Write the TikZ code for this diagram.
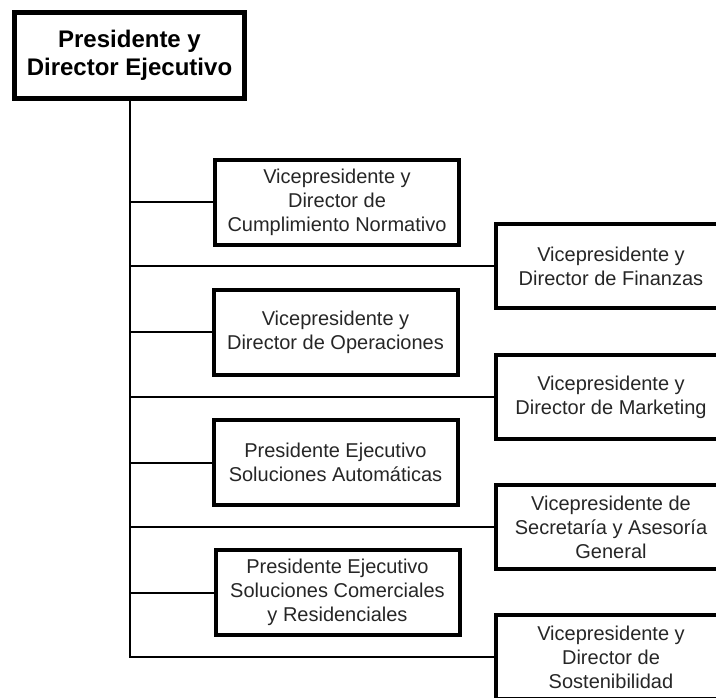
\documentclass[tikz,border=0pt]{standalone}
\usepackage{fontspec}
\setmainfont{Liberation Sans}
\begin{document}
\begin{tikzpicture}[x=1pt,y=-1pt,
  chief/.style={draw, line width=5pt, minimum width=230pt, minimum height=86pt,
    inner sep=0pt, align=center, font=\fontsize{24}{28}\selectfont\bfseries},
  unit/.style={draw, line width=4pt, minimum width=244pt, minimum height=85pt,
    inner sep=0pt, align=center, font=\fontsize{20}{24}\selectfont, text=black!85},
  runit/.style={unit, minimum width=230pt, minimum height=84pt},
  link/.style={line width=2pt}]
\useasboundingbox (0,0) rectangle (716,698);
\clip (0,0) rectangle (716,698);

% chief executive
\node[chief] (ceo) at (129.5,55.5) {Presidente y\\Director Ejecutivo};

% units on the left of the branches
\node[unit] (cn)   at (337,202.5)   {Vicepresidente y\\Director de\\Cumplimiento Normativo};
\node[unit] (ops)  at (335.5,332.5) {Vicepresidente y\\Director de Operaciones};
\node[unit] (auto) at (335.5,462.5) {Presidente Ejecutivo\\Soluciones Automáticas};
\node[unit] (com)  at (337.5,592.5) {Presidente Ejecutivo\\Soluciones Comerciales\\y Residenciales};

% units on the right
\node[runit] (fin)  at (611,266.5) {Vicepresidente y\\Director de Finanzas};
\node[runit] (mkt)  at (611,397)   {Vicepresidente y\\Director de Marketing};
\node[runit] (sec)  at (611,527)   {Vicepresidente de\\Secretaría y Asesoría\\General};
\node[runit] (sost) at (611,657)   {Vicepresidente y\\Director de\\Sostenibilidad};

% trunk and branches
\draw[link] (ceo.south) -- (ceo.south |- sost.west) -- (sost.west);
\foreach \n in {cn,ops,auto,com,fin,mkt,sec}
  \draw[link] (ceo.south |- \n.west) -- (\n.west);
\end{tikzpicture}
\end{document}
